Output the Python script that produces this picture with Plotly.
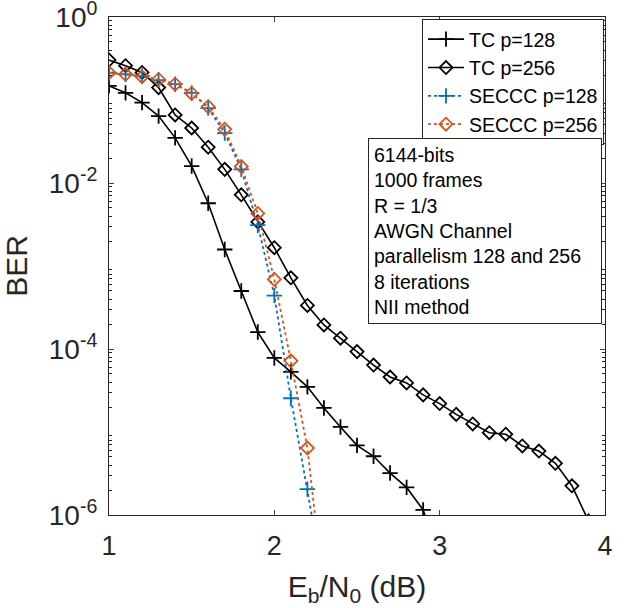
import plotly.graph_objects as go

# ---- data ----
x_tc128 = [1.0, 1.1, 1.2, 1.3, 1.4, 1.5, 1.6, 1.7, 1.8, 1.9, 2.0, 2.1, 2.2, 2.3, 2.4, 2.5, 2.6, 2.7, 2.8, 2.9, 3.0]
ber_tc128 = [0.148, 0.122, 0.093, 0.064, 0.035, 0.016, 5.7e-3, 1.58e-3, 5.0e-4, 1.6e-4, 7.8e-5, 5.3e-5, 3.5e-5,
             1.95e-5, 1.15e-5, 6.9e-6, 5.1e-6, 3.2e-6, 2.15e-6, 1.15e-6, 3e-7]

x_tc256 = [1.0, 1.1, 1.2, 1.3, 1.4, 1.5, 1.6, 1.7, 1.8, 1.9, 2.0, 2.1, 2.2, 2.3, 2.4, 2.5, 2.6, 2.7, 2.8, 2.9,
           3.0, 3.1, 3.2, 3.3, 3.4, 3.5, 3.6, 3.7, 3.8, 3.9]
ber_tc256 = [0.303, 0.259, 0.215, 0.141, 0.066, 0.046, 0.027, 0.0146, 7.2e-3, 3.4e-3, 1.66e-3, 7.2e-4, 3.35e-4,
             1.95e-4, 1.35e-4, 9.3e-5, 6.4e-5, 4.6e-5, 3.9e-5, 2.8e-5, 2.2e-5, 1.63e-5, 1.25e-5, 9.8e-6,
             9.4e-6, 6.8e-6, 5.9e-6, 4.2e-6, 2.25e-6, 8.5e-7]

x_seccc128 = [1.0, 1.1, 1.2, 1.3, 1.4, 1.5, 1.6, 1.7, 1.8, 1.9, 2.0, 2.1, 2.2, 2.3]
ber_seccc128 = [0.213, 0.204, 0.195, 0.174, 0.155, 0.122, 0.080, 0.040, 0.0146, 3.1e-3, 4.4e-4, 2.55e-5, 2.05e-6, 1.5e-7]

x_seccc256 = [1.0, 1.1, 1.2, 1.3, 1.4, 1.5, 1.6, 1.7, 1.8, 1.9, 2.0, 2.1, 2.2, 2.3]
ber_seccc256 = [0.213, 0.204, 0.191, 0.177, 0.155, 0.120, 0.083, 0.0443, 0.0158, 4.3e-3, 6.9e-4, 7.2e-5, 6.4e-6, 1.1e-7]

names = ["TC p=128", "TC p=256", "SECCC p=128", "SECCC p=256"]

x_ticks = [1, 2, 3, 4]
y_ticks = [1e-6, 1e-4, 1e-2, 1]
y_ticktext = ["10<sup>-6</sup>", "10<sup>-4</sup>", "10<sup>-2</sup>", "10<sup>0</sup>"]

info_lines = ["6144-bits", "1000 frames", "R = 1/3", "AWGN Channel",
              "parallelism 128 and 256", "8 iterations", "NII method"]

# ---- figure ----
FONT = "Liberation Sans, Arial, sans-serif"
AX = "#262626"
BLUE = "#0072BD"
ORANGE = "#D95319"

fig = go.Figure()
fig.add_trace(go.Scatter(x=x_tc128, y=ber_tc128, name=names[0], mode="lines+markers",
                         line=dict(color="black", width=1.6),
                         marker=dict(symbol="cross-thin", size=11, line=dict(color="black", width=1.8))))
fig.add_trace(go.Scatter(x=x_tc256, y=ber_tc256, name=names[1], mode="lines+markers",
                         line=dict(color="black", width=1.6),
                         marker=dict(symbol="diamond-open", size=10, color="black", line=dict(width=1.8))))
fig.add_trace(go.Scatter(x=x_seccc128, y=ber_seccc128, name=names[2], mode="lines+markers",
                         line=dict(color=BLUE, width=1.8, dash="dot"),
                         marker=dict(symbol="cross-thin", size=11, line=dict(color=BLUE, width=1.8))))
fig.add_trace(go.Scatter(x=x_seccc256, y=ber_seccc256, name=names[3], mode="lines+markers",
                         line=dict(color=ORANGE, width=1.8, dash="dot"),
                         marker=dict(symbol="diamond-open", size=10, color=ORANGE, line=dict(width=1.8))))

minor_vals = [m * 10 ** e for e in range(-6, 0) for m in range(2, 10)]

fig.update_layout(
    width=627, height=608,
    margin=dict(l=109, r=22, t=17, b=93),
    plot_bgcolor="white", paper_bgcolor="white",
    font=dict(family=FONT, color=AX),
    showlegend=True,
    legend=dict(x=0.998, xanchor="right", y=0.996, yanchor="top",
                bgcolor="white", bordercolor=AX, borderwidth=1,
                font=dict(size=19.5, color="black", family=FONT),
                tracegroupgap=0, itemwidth=36),
    xaxis=dict(range=[1, 4], tickvals=x_ticks, ticks="inside", ticklen=5, mirror="ticks",
               showline=True, linecolor=AX, linewidth=1, showgrid=False, zeroline=False,
               automargin=False, ticklabeloverflow="allow", ticklabelstandoff=7,
               tickfont=dict(size=27, color=AX),
               title=dict(text="E<sub>b</sub>/N<sub>0</sub> (dB)", font=dict(size=30, color=AX))),
    yaxis=dict(type="log", range=[-6, 0], tickvals=y_ticks, ticktext=y_ticktext,
               ticks="inside", ticklen=5, mirror="ticks",
               showline=True, linecolor=AX, linewidth=1, showgrid=False, zeroline=False,
               automargin=False, ticklabeloverflow="allow", ticklabelstandoff=5,
               tickfont=dict(size=28, color=AX),
               minor=dict(tickvals=minor_vals, ticks="inside", ticklen=3, tickcolor=AX, showgrid=False),
               title=dict(text="BER", font=dict(size=30, color=AX))),
)

fig.add_annotation(xref="paper", yref="paper", x=0.522, y=0.757, xanchor="left", yanchor="top",
                   text="<br>".join(info_lines), showarrow=False, align="left", width=222,
                   font=dict(size=19.5, color="black", family=FONT),
                   bgcolor="white", bordercolor=AX, borderwidth=1, borderpad=5)

# remove the default page margin so the figure sits at the window's top-left corner
fig.write_html("out.html", config={"displayModeBar": False},
               post_script="document.body.style.margin='0';")
